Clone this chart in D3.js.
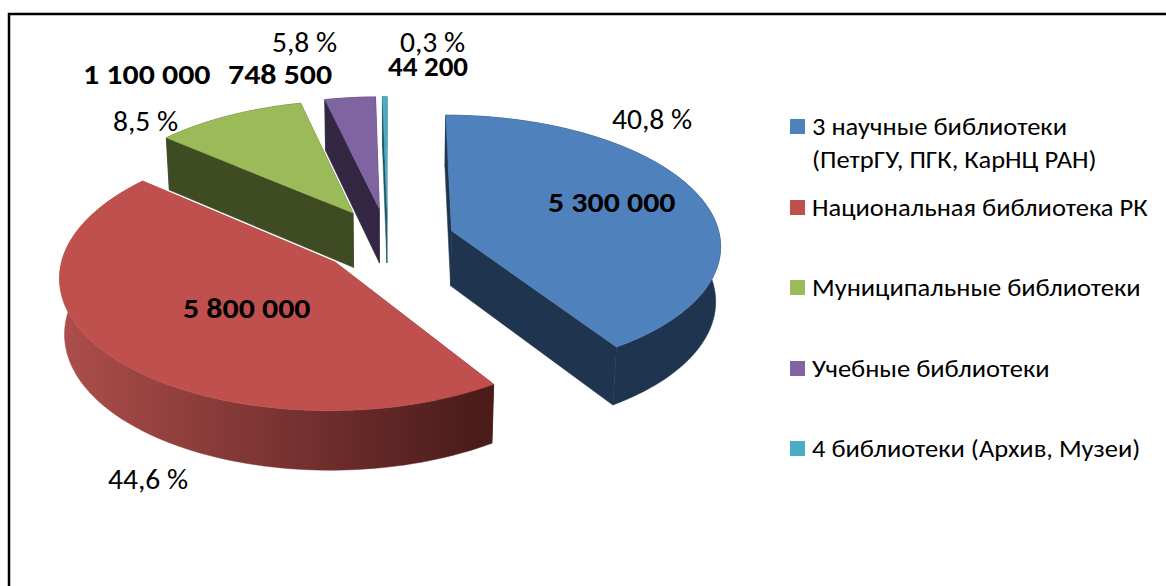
<!DOCTYPE html>
<html>
<head>
<meta charset="utf-8" />
<script src="https://d3js.org/d3.v7.min.js"></script>
<style>
    html, body { margin: 0; padding: 0; background: #fff; overflow: hidden; }
    text { font-family: "Carlito", "Lato", "Open Sans", sans-serif; fill: #000; }
</style>
</head>
<body>
<div id="visu"></div>
<script>
    // Données du graphique
    const categories = ["3 научные библиотеки|(ПетрГУ, ПГК, КарНЦ РАН)", "Национальная библиотека РК",
        "Муниципальные библиотеки", "Учебные библиотеки", "4 библиотеки (Архив, Музеи)"];
    // Parts telles que dessinées sur l'image (en %), elles ne suivent pas tout à fait les étiquettes
    const partsDessinees = [40.8, 45.4, 10.1, 3.4, 0.3];
    const valeursLabels = ["5 300 000", "5 800 000", "1 100 000", "748 500", "44 200"];
    const pourcentLabels = ["40,8 %", "44,6 %", "8,5 %", "5,8 %", "0,3 %"];

    // Couleurs : dessus et paroi de chaque part
    const couleurs = ["#4f81bd", "#c0504d", "#9bbb59", "#8064a2", "#4bacc6"];
    const couleursParoi = ["#1f344f", "url(#paroiRouge)", "#3f4b23", "#332743", "#1c5565"];

    // Position des étiquettes (x gauche, ligne de base)
    const posValeurs = [[548, 212], [183, 318], [83, 84], [228, 84], [388, 76]];
    const echelleValeurs = [1.1, 1.1, 1.1, 1.1, 1.0];
    const posPourcent = [[612, 129], [108, 489], [113, 131], [272, 52], [400, 52]];
    const legendeY = [119, 200, 280, 361, 441];

    const width = 1166, height = 586;

    // Paramètres de la projection en perspective
    const cx = 387.5, cy = 240, rx = 269, ry = 129, persp = 0.1, profondeur = 56, perspZ = 0.015;
    const eclate = [0.25, 0.255, 0.25, 0.25, 0.25];

    function projette(u, v, z) {
        const s = 1 / (1 - persp * v + perspZ * z);
        return [cx + rx * u * s, cy + (ry * v + profondeur * z) * s];
    }

    const svg = d3.select("#visu").append("svg")
        .attr("width", width)
        .attr("height", height);

    const grad = svg.append("defs").append("linearGradient")
        .attr("id", "paroiRouge")
        .attr("gradientUnits", "userSpaceOnUse")
        .attr("x1", 60).attr("x2", 470).attr("y1", 0).attr("y2", 0);
    grad.append("stop").attr("offset", 0).attr("stop-color", "#ad4e4b");
    grad.append("stop").attr("offset", 1).attr("stop-color", "#4c1c1b");

    // Cadre : haut et gauche seulement, le reste sort de l'image
    svg.append("path")
        .attr("d", d3.line()([[width, 14], [9, 14], [9, height]]))
        .attr("fill", "none")
        .attr("stroke", "#000")
        .attr("stroke-width", 2.5);

    const pie = d3.pie().sort(null).value(d => d);
    const line = d3.line();

    const parts = pie(partsDessinees).map((d, i) => {
        const mid = (d.startAngle + d.endAngle) / 2;
        const ou = eclate[i] * Math.sin(mid), ov = -eclate[i] * Math.cos(mid);
        const nb = Math.max(2, Math.ceil((d.endAngle - d.startAngle) / 0.03));
        const angles = d3.range(nb + 1).map(k => d.startAngle + (d.endAngle - d.startAngle) * k / nb);
        const plan = angles.map(a => [ou + Math.sin(a), ov - Math.cos(a)]);
        return { i, ou, ov, plan };
    });

    // Ordre du fond vers l'avant
    const ordre = [3, 4, 2, 0, 1];

    ordre.forEach(i => {
        const p = parts[i];
        const g = svg.append("g");
        const first = p.plan[0], last = p.plan[p.plan.length - 1];
        const apex = [p.ou, p.ov];

        const faces = [
            [apex, first],
            [apex, last],
            p.plan
        ].map(pts => {
            const haut = pts.map(q => projette(q[0], q[1], 0));
            const bas = pts.map(q => projette(q[0], q[1], 1)).reverse();
            return { poly: haut.concat(bas), v: d3.mean(pts, q => q[1]) };
        }).sort((a, b) => a.v - b.v);

        g.selectAll("path.paroi")
            .data(faces)
            .enter().append("path")
            .attr("class", "paroi")
            .attr("d", f => line(f.poly) + "Z")
            .attr("fill", couleursParoi[i])
            .attr("stroke", couleursParoi[i])
            .attr("stroke-width", 0.5);

        const dessus = [apex].concat(p.plan).map(q => projette(q[0], q[1], 0));
        g.append("path")
            .attr("d", line(dessus) + "Z")
            .attr("fill", couleurs[i])
            .attr("stroke", couleurs[i])
            .attr("stroke-width", 0.5);
    });

    // Etiquettes, légèrement étirées en largeur comme sur l'image
    svg.selectAll("text.valeur")
        .data(valeursLabels)
        .enter().append("text")
        .attr("class", "valeur")
        .attr("transform", (d, i) => `translate(${posValeurs[i]}) scale(${echelleValeurs[i]}, 1)`)
        .style("font-size", "29px")
        .style("font-weight", "bold")
        .text(d => d);

    svg.selectAll("text.pourcent")
        .data(pourcentLabels)
        .enter().append("text")
        .attr("class", "pourcent")
        .attr("transform", (d, i) => `translate(${posPourcent[i]}) scale(1.02, 1)`)
        .style("font-size", "29px")
        .text(d => d);

    // Légende
    const legend = svg.selectAll("g.legende")
        .data(categories)
        .enter().append("g")
        .attr("class", "legende")
        .attr("transform", (d, i) => `translate(790, ${legendeY[i]})`);

    legend.append("rect")
        .attr("width", 15)
        .attr("height", 15)
        .attr("fill", (d, i) => couleurs[i]);

    legend.append("text")
        .attr("transform", "translate(22, 16) scale(1.06, 1)")
        .style("font-size", "25px")
        .each(function (d) {
            d.split("|").forEach((t, k) => {
                d3.select(this).append("tspan")
                    .attr("x", 0)
                    .attr("dy", k ? 33 : 0)
                    .text(t);
            });
        });
</script>
</body>
</html>
